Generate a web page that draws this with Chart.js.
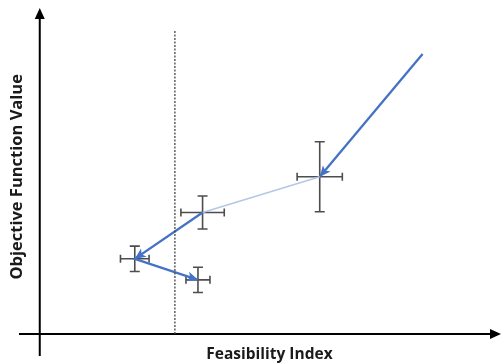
<!DOCTYPE html>
<html>
<head>
<meta charset="utf-8">
<script src="https://cdn.jsdelivr.net/npm/chart.js@4/dist/chart.umd.min.js"></script>
<style>
  body { margin: 0; background: #fff; }
  #wrap { width: 502px; height: 363px; position: relative; }
</style>
</head>
<body>
<div id="wrap"><canvas id="myChart"></canvas></div>
<script>
// path of the search, in drawing order
const pathX = [83.0, 60.7, 35.3, 20.6, 34.3];
const pathY = [86.4, 48.5, 37.5, 23.2, 16.7];
const errX = [0, 4.9, 4.7, 3.1, 2.6];
const errY = [0, 10.8, 5.1, 3.9, 3.9];
const arrowOnSeg = [true, false, true, true];
const faintSeg = [false, true, false, false];
const thresholdX = 29.3;
const thresholdTop = 93.8;
const xTitle = 'Feasibility Index';
const yTitle = 'Objective Function Value';

const blue = '#4472C4';
const lightBlue = '#B4C7E7';

function arrowHead(ctx, x0, y0, x1, y1, len, half, color){
    const a = Math.atan2(y1 - y0, x1 - x0);
    ctx.save();
    ctx.fillStyle = color;
    ctx.translate(x1, y1);
    ctx.rotate(a);
    ctx.beginPath();
    ctx.moveTo(0, 0);
    ctx.lineTo(-len, -half);
    ctx.lineTo(-len * 0.75, 0);
    ctx.lineTo(-len, half);
    ctx.closePath();
    ctx.fill();
    ctx.restore();
}

const decor = {
    id: 'decor',
    beforeDatasetsDraw(chart){
        const ctx = chart.ctx, xs = chart.scales.x, ys = chart.scales.y, ca = chart.chartArea;
        // axes through the origin
        const ox = xs.getPixelForValue(0), oy = ys.getPixelForValue(0);
        ctx.save();
        ctx.strokeStyle = '#000';
        ctx.lineWidth = 2;
        ctx.beginPath();
        ctx.moveTo(ca.left, oy);
        ctx.lineTo(ca.right - 8, oy);
        ctx.moveTo(ox, ca.bottom);
        ctx.lineTo(ox, ca.top + 8);
        ctx.stroke();
        ctx.fillStyle = '#000';
        ctx.beginPath();
        ctx.moveTo(ca.right, oy);
        ctx.lineTo(ca.right - 11, oy - 5);
        ctx.lineTo(ca.right - 11, oy + 5);
        ctx.closePath();
        ctx.fill();
        ctx.beginPath();
        ctx.moveTo(ox, ca.top);
        ctx.lineTo(ox - 5, ca.top + 11);
        ctx.lineTo(ox + 5, ca.top + 11);
        ctx.closePath();
        ctx.fill();

        // titles
        ctx.fillStyle = '#1a1a1a';
        ctx.textAlign = 'center';
        ctx.textBaseline = 'middle';
        ctx.font = 'bold 15.5px "Open Sans", "Liberation Sans", sans-serif';
        ctx.fillText(xTitle, xs.getPixelForValue(49.8), ca.bottom - 1);
        ctx.save();
        ctx.font = 'bold 16.5px "Open Sans", "Liberation Sans", sans-serif';
        ctx.translate(17, ys.getPixelForValue(48.5));
        ctx.rotate(-Math.PI / 2);
        ctx.fillText(yTitle, 0, 0);
        ctx.restore();

        // error bars
        ctx.strokeStyle = '#4d4d4d';
        ctx.lineWidth = 1.6;
        for (let i = 0; i < pathX.length; i++){
            if (!errX[i] && !errY[i]) continue;
            const cx = xs.getPixelForValue(pathX[i]), cy = ys.getPixelForValue(pathY[i]);
            const l = xs.getPixelForValue(pathX[i] - errX[i]), r = xs.getPixelForValue(pathX[i] + errX[i]);
            const t = ys.getPixelForValue(pathY[i] + errY[i]), b = ys.getPixelForValue(pathY[i] - errY[i]);
            ctx.beginPath();
            ctx.moveTo(l, cy); ctx.lineTo(r, cy);
            ctx.moveTo(cx, t); ctx.lineTo(cx, b);
            ctx.moveTo(l, cy - 4); ctx.lineTo(l, cy + 4);
            ctx.moveTo(r, cy - 4); ctx.lineTo(r, cy + 4);
            ctx.moveTo(cx - 5, t); ctx.lineTo(cx + 5, t);
            ctx.moveTo(cx - 5, b); ctx.lineTo(cx + 5, b);
            ctx.stroke();
        }
        ctx.restore();
    },
    afterDatasetsDraw(chart){
        const ctx = chart.ctx, xs = chart.scales.x, ys = chart.scales.y;
        for (let i = 0; i < arrowOnSeg.length; i++){
            if (!arrowOnSeg[i]) continue;
            arrowHead(ctx,
                xs.getPixelForValue(pathX[i]), ys.getPixelForValue(pathY[i]),
                xs.getPixelForValue(pathX[i + 1]), ys.getPixelForValue(pathY[i + 1]),
                11, 5, blue);
        }
    }
};

const pts = pathX.map((x, i) => ({x: x, y: pathY[i]}));

new Chart(document.getElementById('myChart'), {
    type: 'scatter',
    data: {
        datasets: [
            {
                data: [{x: thresholdX, y: 0}, {x: thresholdX, y: thresholdTop}],
                showLine: true,
                borderColor: '#444',
                borderWidth: 1.3,
                borderDash: [2, 1.5],
                pointRadius: 0
            },
            {
                data: pts,
                showLine: true,
                borderColor: blue,
                borderWidth: 2.3,
                pointRadius: 0,
                segment: {
                    borderColor: c => faintSeg[c.p0DataIndex] ? lightBlue : blue,
                    borderWidth: c => faintSeg[c.p0DataIndex] ? 1.5 : 2.3
                }
            }
        ]
    },
    options: {
        responsive: true,
        maintainAspectRatio: false,
        animation: false,
        layout: {padding: {left: 19, right: 1, top: 8, bottom: 7}},
        plugins: {legend: {display: false}, tooltip: {enabled: false}},
        scales: {
            x: {type: 'linear', min: -4.5, max: 100, display: false},
            y: {type: 'linear', min: -6.8, max: 100.6, display: false}
        }
    },
    plugins: [decor]
});
</script>
</body>
</html>
